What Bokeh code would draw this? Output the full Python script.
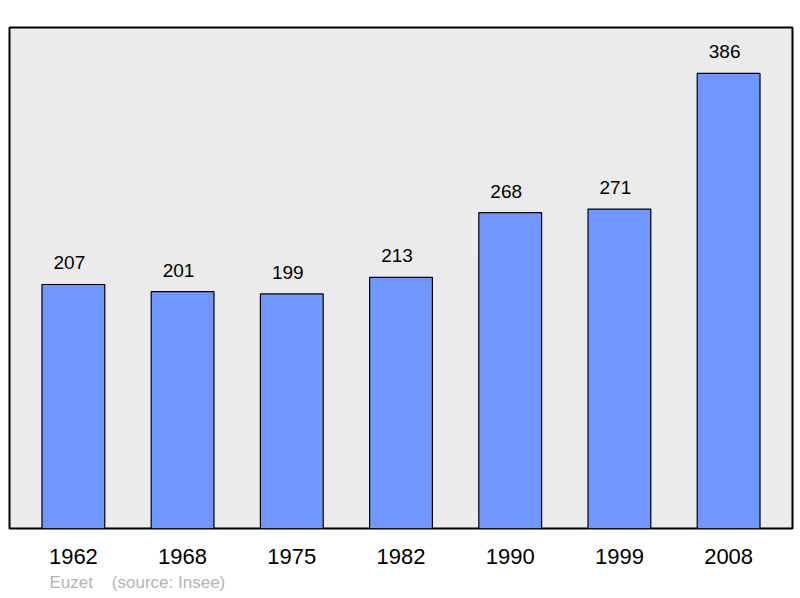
from bokeh.plotting import figure
from bokeh.models import ColumnDataSource, Range1d, FixedTicker, LabelSet, Title
from bokeh.core.properties import value
from bokeh.embed import file_html
from bokeh.resources import INLINE

# données
annees = ["1962", "1968", "1975", "1982", "1990", "1999", "2008"]
population = [207, 201, 199, 213, 268, 271, 386]
commune = "Euzet"
source = "(source: Insee)"

pos = list(range(len(annees)))
src = ColumnDataSource(data=dict(x=pos, pop=population, lab=[str(v) for v in population]))

p = figure(width=794, height=596,
           x_range=Range1d(-0.585, 6.585), y_range=Range1d(0, 425),
           output_backend="svg", toolbar_location=None,
           background_fill_color="#ebebeb", border_fill_color="white",
           min_border_left=9, min_border_right=2, min_border_top=27, min_border_bottom=68)

p.vbar(x="x", top="pop", width=0.575, source=src,
       fill_color="#6f97ff", line_color="black", line_width=1.2)

# étiquettes de valeurs (légèrement décalées à gauche comme l'original)
labels = LabelSet(x="x", y="pop", text="lab", source=src,
                  text_align="center", text_baseline="bottom", x_offset=-4, y_offset=15,
                  text_font=value("Liberation Sans"), text_font_size="19px", text_color="black")
p.add_layout(labels)

# axes
p.yaxis.visible = False
p.grid.visible = False
p.xaxis.ticker = FixedTicker(ticks=pos)
p.xaxis.major_label_overrides = {i: a for i, a in enumerate(annees)}
p.xaxis.axis_line_color = None
p.xaxis.major_tick_line_color = None
p.xaxis.minor_tick_line_color = None
p.xaxis.major_label_standoff = 14
p.xaxis.major_label_text_font = "Liberation Sans"
p.xaxis.major_label_text_font_size = "22px"
p.xaxis.major_label_text_color = "black"

p.outline_line_color = "black"
p.outline_line_width = 2

# texte source
p.add_layout(Title(text=commune + "\u00a0" * 4 + source, align="left", offset=40, standoff=8,
                   text_font="Liberation Sans", text_font_size="17px",
                   text_font_style="normal", text_color="#b4b4b4"), "below")

open("out.html", "w").write(file_html(p, INLINE))
